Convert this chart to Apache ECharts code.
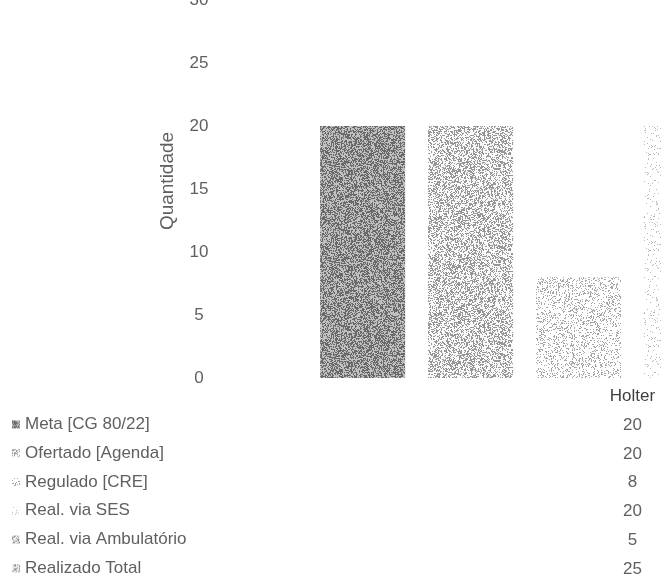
<!DOCTYPE html>
<html>
<head>
<meta charset="utf-8">
<script src="https://cdn.jsdelivr.net/npm/echarts@6/dist/echarts.min.js"></script>
<style>
html,body{margin:0;padding:0;background:#fff;overflow:hidden;width:661px;height:585px;}
#c{width:1100px;height:585px;}
</style>
</head>
<body>
<div id="c"></div>
<script>
var categories = ['Holter'];
var seriesNames = ['Meta [CG 80/22]','Ofertado [Agenda]','Regulado [CRE]','Real. via SES','Real. via Ambulatório','Realizado Total'];
var metaValues = [20];
var ofertadoValues = [20];
var reguladoValues = [8];
var sesValues = [20];
var ambulatorioValues = [5];
var totalValues = [25];
var yTicks = [0,5,10,15,20,25,30];

var allValues = [metaValues, ofertadoValues, reguladoValues, sesValues, ambulatorioValues, totalValues];
// stipple styles: [background grey, dot grey, dot density]
var stippleStyles = [
  [192, 105, 0.5],
  [250, 150, 0.42],
  [255, 165, 0.22],
  [255, 185, 0.07],
  [240, 150, 0.35],
  [235, 140, 0.38]
];
var FONT = 'Liberation Sans, Arial, sans-serif';

function hash(x, y, s){
  var h = (x * 374761393 + y * 668265263 + s * 2246822519) | 0;
  h = Math.imul(h ^ (h >>> 13), 1274126177);
  h = h ^ (h >>> 16);
  return (h >>> 0) / 4294967296;
}
function stipple(st, seed){
  var n = 96, cv = document.createElement('canvas');
  cv.width = n; cv.height = n;
  var ctx = cv.getContext('2d');
  var img = ctx.createImageData(n, n);
  for (var y = 0; y < n; y++) for (var x = 0; x < n; x++) {
    var v = hash(x, y, seed) < st[2] ? st[1] : st[0];
    var p = (y * n + x) * 4;
    img.data[p] = img.data[p+1] = img.data[p+2] = v; img.data[p+3] = 255;
  }
  ctx.putImageData(img, 0, 0);
  return {image: cv, repeat: 'repeat'};
}

var chart = echarts.init(document.getElementById('c'), null, {renderer:'canvas'});

var series = seriesNames.map(function(n, i){
  return {
    name: n, type: 'bar', data: allValues[i],
    barWidth: 85, barGap: '27%',
    itemStyle: {color: stipple(stippleStyles[i], i + 1)}
  };
});

chart.setOption({
  animation: false,
  backgroundColor: '#fff',
  grid: {left: 220, width: 825, top: 0, bottom: 207, containLabel: false, outerBoundsMode: 'none'},
  legend: {
    orient: 'vertical', left: 12, top: 410, padding: 0,
    itemWidth: 8, itemHeight: 8, itemGap: 0,
    icon: 'rect',
    textStyle: {fontFamily: FONT, fontSize: 17, color: '#606060', lineHeight: 28.8}
  },
  xAxis: {
    type: 'category', data: categories,
    axisLine: {show: false}, axisTick: {show: false},
    axisLabel: {
      margin: 4,
      formatter: function(v, idx){
        var s = '{h|' + v + '}';
        for (var k = 0; k < allValues.length; k++) s += '\n{v|' + allValues[k][idx] + '}';
        return s;
      },
      rich: {
        h: {fontFamily: FONT, fontSize: 17, color: '#404040', lineHeight: 28.8},
        v: {fontFamily: FONT, fontSize: 17, color: '#606060', lineHeight: 28.8}
      }
    }
  },
  yAxis: {
    type: 'value', min: yTicks[0], max: yTicks[yTicks.length-1], interval: 5,
    name: 'Quantidade', nameLocation: 'middle', nameGap: 43, nameRotate: 90,
    nameTextStyle: {fontFamily: FONT, fontSize: 19, color: '#606060', padding: [0, 0, 0, 16]},
    axisLine: {show: false}, axisTick: {show: false},
    splitLine: {show: false},
    axisLabel: {fontFamily: FONT, fontSize: 17, color: '#606060', align: 'center', margin: 21}
  },
  series: series
});
</script>
</body>
</html>
